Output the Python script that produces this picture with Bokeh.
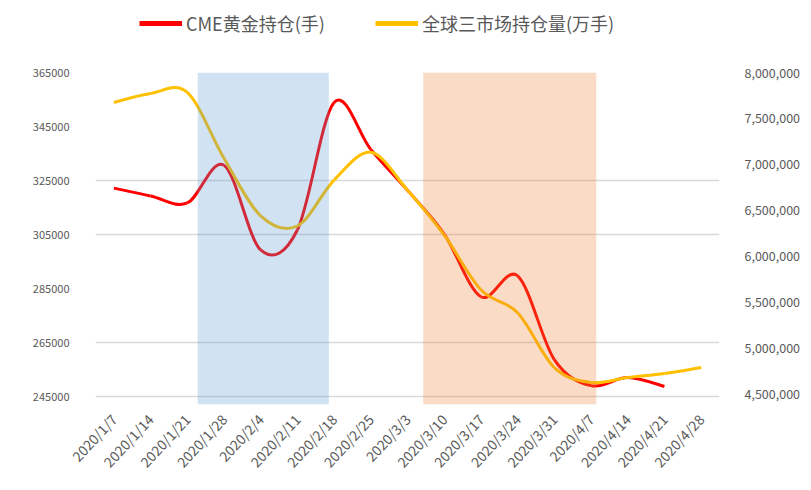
import datetime as dt
from bokeh.plotting import figure
from bokeh.layouts import column
from bokeh.models import (Range1d, LinearAxis, FixedTicker, Legend, LegendItem,
                          ColumnDataSource, NumeralTickFormatter)
from bokeh.embed import file_html
from bokeh.resources import INLINE

# ---------------- data ----------------
dates = ["2020/1/7", "2020/1/14", "2020/1/21", "2020/1/28", "2020/2/4", "2020/2/11",
         "2020/2/18", "2020/2/25", "2020/3/3", "2020/3/10", "2020/3/17", "2020/3/24",
         "2020/3/31", "2020/4/7", "2020/4/14", "2020/4/21", "2020/4/28"]
red_name = "CME黄金持仓(手)"
red_vals = [322200, 319300, 316700, 330700, 299300, 306700, 353900, 336500, 321400,
            305200, 282000, 289700, 258700, 249100, 252100, 248800]
yellow_name = "全球三市场持仓量(万手)"
yellow_vals = [7674600, 7772000, 7783000, 7067000, 6440000, 6330000, 6829000, 7132000,
               6720000, 6232000, 5636000, 5386000, 4790000, 4627000, 4681000, 4725000, 4790000]
left_ticks = [245000, 265000, 285000, 305000, 325000, 345000, 365000]
grid_vals = [245000, 265000, 305000, 325000]
right_ticks = [4500000, 5000000, 5500000, 6000000, 6500000, 7000000, 7500000, 8000000]
band_starts = ["2020/1/23", "2020/3/6"]
band_ends = ["2020/2/17", "2020/4/8"]
band_colors = ["#5B9BD5", "#ED7D31"]

# ---------------- helpers ----------------
def day(s):
    d = dt.datetime.strptime(s, "%Y/%m/%d")
    return float((d - dt.datetime(2020, 1, 7)).days)

xs = [day(d) for d in dates]

def bezier_parts(x, y):
    n = len(x)
    out = dict(x0=[], y0=[], x1=[], y1=[], cx0=[], cy0=[], cx1=[], cy1=[])
    for i in range(n - 1):
        xp, yp = (x[i - 1], y[i - 1]) if i > 0 else (x[i], y[i])
        xn2, yn2 = (x[i + 2], y[i + 2]) if i + 2 < n else (x[i + 1], y[i + 1])
        out["x0"].append(x[i]); out["y0"].append(y[i])
        out["x1"].append(x[i + 1]); out["y1"].append(y[i + 1])
        out["cx0"].append(x[i] + (x[i + 1] - xp) / 6.0)
        out["cy0"].append(y[i] + (y[i + 1] - yp) / 6.0)
        out["cx1"].append(x[i + 1] - (xn2 - x[i]) / 6.0)
        out["cy1"].append(y[i + 1] - (yn2 - y[i]) / 6.0)
    return out

FONT = "Noto Sans CJK SC"
W, H = 803, 482
LH = 50  # height of legend strip

# ---------------- legend strip ----------------
lf = figure(width=W, height=LH, output_backend="svg", toolbar_location=None,
            x_range=Range1d(0, 1), y_range=Range1d(0, 1),
            x_axis_location=None, y_axis_location=None,
            min_border_left=0, min_border_right=0, min_border_top=0, min_border_bottom=0)
lf.grid.visible = False
lf.outline_line_color = None
leg_red = lf.line(x=[0, 1], y=[5, 5], line_color="#FF0000", line_width=5)
leg_yel = lf.line(x=[0, 1], y=[5, 5], line_color="#FFC000", line_width=5)
for rend, name, loc in [(leg_red, red_name, (44, 14)), (leg_yel, yellow_name, (280, 14))]:
    lg = Legend(items=[LegendItem(label=name, renderers=[rend])],
                location=loc, orientation="horizontal",
                label_text_font=FONT, label_text_font_size="18px",
                label_text_color="#595959", glyph_width=43, glyph_height=20,
                label_standoff=4, border_line_color=None, background_fill_alpha=0,
                padding=0, margin=0, label_height=20)
    lf.add_layout(lg)

# ---------------- main chart ----------------
p = figure(width=W, height=H - LH, output_backend="svg", toolbar_location=None,
           x_range=Range1d(-3.5, 115.5), y_range=Range1d(242100, 365000),
           min_border_left=95, min_border_right=W - 728, min_border_bottom=H - 404,
           min_border_top=72 - LH)
p.outline_line_color = None
p.extra_y_ranges = {"right": Range1d(4388000, 8000000)}

ax = p.yaxis[0]
ax.ticker = FixedTicker(ticks=left_ticks)
ax.formatter = NumeralTickFormatter(format="0")
ax.axis_line_color = None
ax.major_tick_line_color = None
ax.minor_tick_line_color = None
ax.major_label_text_color = "#595959"
ax.major_label_text_font = FONT
ax.major_label_text_font_size = "11px"
ax.major_label_standoff = 20

ra = LinearAxis(y_range_name="right", ticker=FixedTicker(ticks=right_ticks),
                formatter=NumeralTickFormatter(format="0,0"))
ra.axis_line_color = None
ra.major_tick_line_color = None
ra.minor_tick_line_color = None
ra.major_label_text_color = "#595959"
ra.major_label_text_font = FONT
ra.major_label_text_font_size = "12.5px"
ra.major_label_standoff = 19
p.add_layout(ra, "right")

xa = p.xaxis[0]
xa.ticker = FixedTicker(ticks=xs)
xa.major_label_overrides = {x: d for x, d in zip(xs, dates)}
xa.major_label_orientation = 0.82
xa.axis_line_color = None
xa.major_tick_line_color = None
xa.minor_tick_line_color = None
xa.major_label_text_color = "#595959"
xa.major_label_text_font = FONT
xa.major_label_text_font_size = "14px"
xa.major_label_standoff = 6

p.xgrid.grid_line_color = None
p.ygrid.ticker = FixedTicker(ticks=grid_vals)
p.ygrid.grid_line_color = "#d9d9d9"
p.ygrid.grid_line_width = 1.5

rb = bezier_parts(xs[:len(red_vals)], red_vals)
yb = bezier_parts(xs, yellow_vals)
p.bezier(source=ColumnDataSource(rb), x0="x0", y0="y0", x1="x1", y1="y1",
         cx0="cx0", cy0="cy0", cx1="cx1", cy1="cy1",
         line_color="#FF0000", line_width=3)
p.bezier(source=ColumnDataSource(yb), x0="x0", y0="y0", x1="x1", y1="y1",
         cx0="cx0", cy0="cy0", cx1="cx1", cy1="cy1",
         line_color="#FFC000", line_width=3, y_range_name="right")

p.quad(left=[day(s) for s in band_starts], right=[day(e) for e in band_ends],
       bottom=[242100, 242100], top=[365000, 365000], fill_color=band_colors,
       fill_alpha=0.28, line_color=None)

layout = column(lf, p, spacing=0)
open("out.html", "w").write(file_html(layout, INLINE))
